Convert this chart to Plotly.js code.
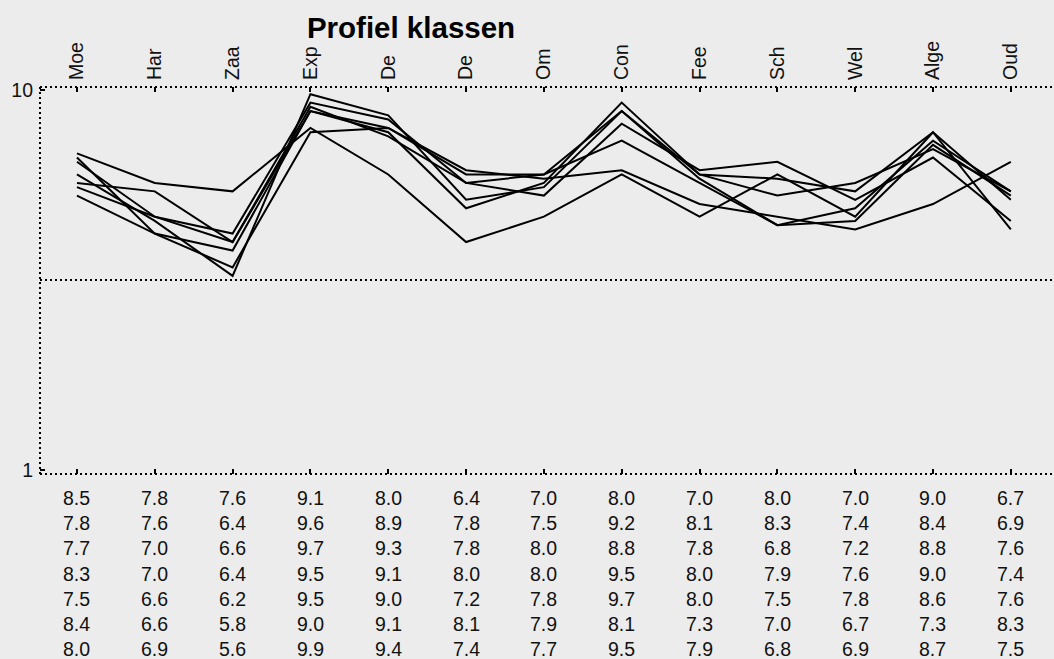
<!DOCTYPE html>
<html>
<head>
<meta charset="utf-8">
<script src="https://cdn.plot.ly/plotly-3.0.1.min.js"></script>
<style>html,body{margin:0;padding:0;background:#ececec;}#chart{width:1054px;height:659px;}</style>
</head>
<body>
<div id="chart"></div>
<script>
var categories = ["Moe","Har","Zaa","Exp","De","De","Om","Con","Fee","Sch","Wel","Alge","Oud"];
var row1 = [8.5,7.8,7.6,9.1,8.0,6.4,7.0,8.0,7.0,8.0,7.0,9.0,6.7];
var row2 = [7.8,7.6,6.4,9.6,8.9,7.8,7.5,9.2,8.1,8.3,7.4,8.4,6.9];
var row3 = [7.7,7.0,6.6,9.7,9.3,7.8,8.0,8.8,7.8,6.8,7.2,8.8,7.6];
var row4 = [8.3,7.0,6.4,9.5,9.1,8.0,8.0,9.5,8.0,7.9,7.6,9.0,7.4];
var row5 = [7.5,6.6,6.2,9.5,9.0,7.2,7.8,9.7,8.0,7.5,7.8,8.6,7.6];
var row6 = [8.4,6.6,5.8,9.0,9.1,8.1,7.9,8.1,7.3,7.0,6.7,7.3,8.3];
var row7 = [8.0,6.9,5.6,9.9,9.4,7.4,7.7,9.5,7.9,6.8,6.9,8.7,7.5];
var rows = [row1,row2,row3,row4,row5,row6,row7];
var yTicks = [1, 10];
var midLine = 5.5;

var idx = categories.map(function(c,i){return i;});
var traces = rows.map(function(r){
  return {x: idx, y: r, type:'scatter', mode:'lines', line:{color:'#000', width:2}, hoverinfo:'skip', showlegend:false};
});
traces.push({x: idx, y: idx.map(function(){return null;}), xaxis:'x2', yaxis:'y', type:'scatter', mode:'lines', showlegend:false});

var FONT = '"Liberation Sans", Arial, sans-serif';
var M = {l:40, r:0, t:87, b:185};
var H = 659, plotH = H - M.t - M.b;

var annotations = [];
rows.forEach(function(r, ri){
  var py = 498 + ri*25.2;
  r.forEach(function(v, ci){
    annotations.push({x: ci, xref:'x', y: (H - M.b - py)/plotH, yref:'paper',
      text: v.toFixed(1), showarrow:false, xanchor:'center', yanchor:'middle',
      font:{family:FONT, size:19.5, color:'#111'}});
  });
});

var dotted = {color:'#000', width:2, dash:'2px,3px'};
var shapes = [
  {type:'line', xref:'paper', yref:'paper', x0:0, x1:1, y0:1, y1:1, line:dotted},
  {type:'line', xref:'paper', yref:'paper', x0:0, x1:1, y0:0, y1:0, line:dotted},
  {type:'line', xref:'paper', yref:'paper', x0:0, x1:0, y0:0, y1:1, line:dotted},
  {type:'line', xref:'paper', yref:'y', x0:0, x1:1, y0:midLine, y1:midLine, line:dotted}
];

var xr = [-0.475, 12.555];
var layout = {
  width:1054, height:659,
  margin:M,
  paper_bgcolor:'#ececec', plot_bgcolor:'#ececec',
  font:{family:FONT, size:19.5, color:'#111'},
  title:{text:'<b>Profiel klassen</b>', font:{family:FONT, size:29.5, color:'#000'},
    xref:'container', x:411/1054, xanchor:'center', yref:'container', y:1-28/659, yanchor:'middle'},
  xaxis:{range:xr, side:'top', tickvals:idx, ticktext:categories, tickangle:-90,
    ticks:'inside', ticklen:5, tickwidth:2, tickcolor:'#000', showgrid:false, zeroline:false, showline:false,
    tickfont:{family:FONT, size:19.5, color:'#111'}, ticklabelstandoff:6, fixedrange:true},
  xaxis2:{range:xr, overlaying:'x', side:'bottom', anchor:'y', tickvals:idx, showticklabels:false,
    ticks:'inside', ticklen:5, tickwidth:2, tickcolor:'#000', showgrid:false, zeroline:false, showline:false},
  yaxis:{range:[0.91, 10.07], tickvals:yTicks, ticktext:['1','10'], ticks:'inside', ticklen:5, tickwidth:2, tickcolor:'#000',
    showgrid:false, zeroline:false, showline:false, tickfont:{family:FONT, size:19.5, color:'#111'}, ticklabelstandoff:6},
  shapes:shapes,
  annotations:annotations
};
Plotly.newPlot('chart', traces, layout, {displayModeBar:false, staticPlot:true});
</script>
</body>
</html>
